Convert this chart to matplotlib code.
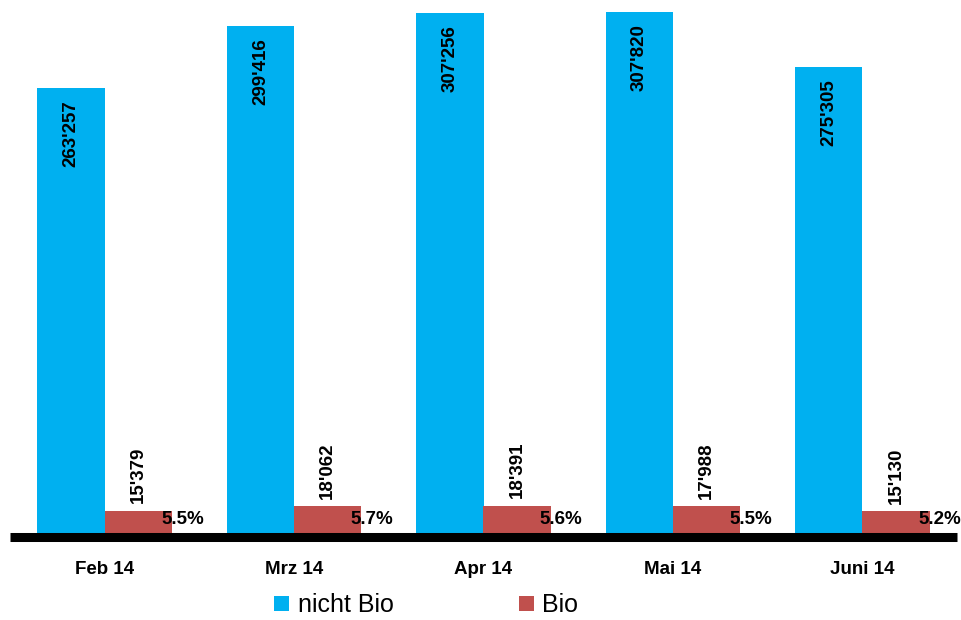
import matplotlib.pyplot as plt
import numpy as np

# Daten
monate = ['Feb 14', 'Mrz 14', 'Apr 14', 'Mai 14', 'Juni 14']
nicht_bio = [263257, 299416, 307256, 307820, 275305]
bio = [15379, 18062, 18391, 17988, 15130]
anteil = ['5.5%', '5.7%', '5.6%', '5.5%', '5.2%']

blau = '#00B0F0'
rot = '#C0504D'

plt.rcParams['font.family'] = ['Liberation Sans', 'DejaVu Sans']


def fmt(v):
    return f'{v:,}'.replace(',', "'")


fig = plt.figure(figsize=(9.62, 6.2), dpi=100)
ax = fig.add_axes([10 / 962, 83 / 620, 947 / 962, 537 / 620])

x = np.arange(len(monate))
b = 0.355
ax.bar(x - b / 2, nicht_bio, width=b, color=blau, label='nicht Bio')
ax.bar(x + b / 2, bio, width=b, color=rot, label='Bio')

for i in range(len(monate)):
    # Werte in den blauen Balken
    ax.text(x[i] - b / 2, nicht_bio[i] - 7000, fmt(nicht_bio[i]), rotation=90,
            ha='center', va='top', fontsize=13.5, fontweight='bold')
    # Werte ueber den roten Balken
    ax.text(x[i] + b / 2, bio[i] + 4500, fmt(bio[i]), rotation=90,
            ha='center', va='bottom', fontsize=13.5, fontweight='bold')
    # Anteil Bio
    ax.text(x[i] + 0.41, 10000, anteil[i], ha='center', va='center',
            fontsize=13.5, fontweight='bold')

ax.set_xlim(-0.5, 4.5)
ax.set_ylim(0, 314860)
ax.set_xticks(x)
ax.set_xticklabels(monate, fontsize=13.5, fontweight='bold')
ax.tick_params(axis='x', length=0, pad=17)
ax.set_yticks([])
for s in ['top', 'right', 'left']:
    ax.spines[s].set_visible(False)
ax.spines['bottom'].set_linewidth(6.5)
ax.spines['bottom'].set_capstyle('butt')

fig.legend(loc='lower center', bbox_to_anchor=(0.443, -0.032), ncol=2,
           frameon=False, fontsize=18, handlelength=0.6, handleheight=0.6,
           handletextpad=0.35, columnspacing=5.0)

fig.savefig('out.png', dpi=100)
